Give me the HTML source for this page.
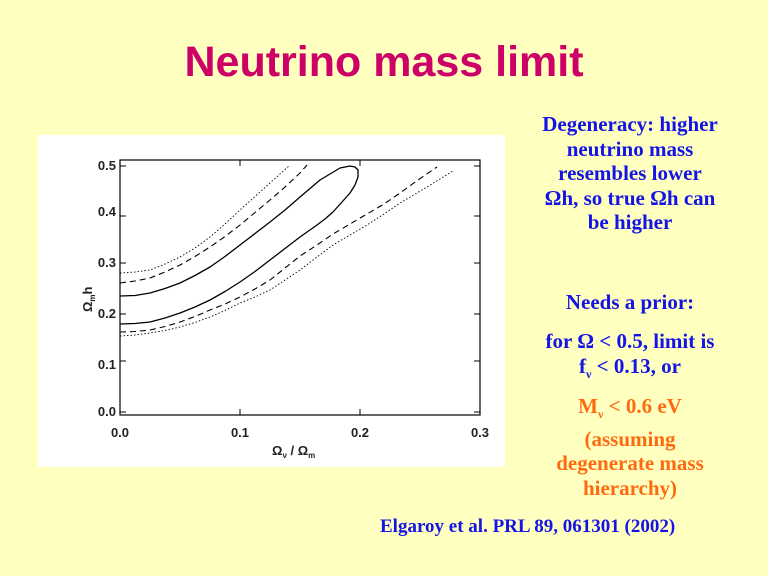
<!DOCTYPE html>
<html><head><meta charset="utf-8"><style>
body{margin:0;width:768px;height:576px;background:#FFFFC0;position:relative;overflow:hidden;font-family:"Liberation Serif",serif}
.t{position:absolute;white-space:nowrap}
.title{left:0;width:768px;text-align:center;top:38px;font:bold 43px "Liberation Sans",sans-serif;color:#CC0066}
.r{position:absolute;left:500px;width:260px;text-align:center;font-weight:bold;font-size:21px;line-height:24.5px;color:#1414E6}
.o{color:#FF6A10}
</style></head><body>
<div class="t title">Neutrino mass limit</div>
<svg style="position:absolute;left:0;top:0" width="768" height="576">
<rect x="38" y="135" width="467" height="332" fill="#fff"/>
<rect x="120" y="160" width="360" height="255" fill="none" stroke="#000" stroke-width="1.2"/>
<g stroke="#000" stroke-width="1">
<path d="M120 412h6M120 361h6M120 314h6M120 263h6M120 216h6M120 166h6M480 412h-6M480 361h-6M480 314h-6M480 263h-6M480 216h-6M480 166h-6M240 415v-6M360 415v-6M240 160v6M360 160v6"/>
</g>
<g font-family="Liberation Sans,sans-serif" font-size="13" font-weight="bold" fill="#222">
<text x="116" y="416" text-anchor="end">0.0</text>
<text x="116" y="369" text-anchor="end">0.1</text>
<text x="116" y="318" text-anchor="end">0.2</text>
<text x="116" y="267" text-anchor="end">0.3</text>
<text x="116" y="216" text-anchor="end">0.4</text>
<text x="116" y="170" text-anchor="end">0.5</text>
<text x="120" y="437" text-anchor="middle">0.0</text>
<text x="240" y="437" text-anchor="middle">0.1</text>
<text x="360" y="437" text-anchor="middle">0.2</text>
<text x="480" y="437" text-anchor="middle">0.3</text>
<text x="272" y="455">Ω<tspan font-size="8" dy="3">ν</tspan><tspan dy="-3"> / Ω</tspan><tspan font-size="8" dy="3">m</tspan></text>
<text transform="translate(92,312) rotate(-90)">Ω<tspan font-size="8" dy="3">m</tspan><tspan dy="-3">h</tspan></text>
</g>
<g fill="none" stroke="#000" stroke-linejoin="round">
<polyline stroke-width="1.3" points="120,296 135,295.5 150,293 165,288.5 180,283 195,275.5 210,267 225,256.5 240,245 255,233.5 270,222 285,210 300,197 320,180 340,168 350,166 355,167 358,170 358,177 355,185 350,193 342,202 333,212 325,219 317,225 300,237 285,248.5 270,260 255,271.5 240,282 225,291.5 210,300 195,307 180,313 165,318 150,322 135,323.5 120,324"/>
<polyline stroke-width="1.1" stroke-dasharray="6,4" points="120,283 135,281 150,278 165,272 180,265 195,256.5 210,247 225,236.5 240,225 255,212.5 270,200 285,187 300,173 307,165"/>
<polyline stroke-width="1.1" stroke-dasharray="6,4" points="120,332 135,331.5 150,330 165,326.5 180,322 195,316.5 210,310 225,304 240,297 255,289 270,280 285,268 300,256 317,245 333,234 350,224 367,214 384,204 400,193 418,180 437,167"/>
<polyline stroke-width="0.9" stroke-dasharray="1.5,2" points="120,273 135,272 150,270 165,264 180,257 195,248 210,237 225,224 240,210 255,196.5 270,183 280,174 290,165"/>
<polyline stroke-width="0.9" stroke-dasharray="1.5,2" points="120,336 135,335 150,333 165,330.5 180,327 195,322.5 210,317 225,310.5 240,303 255,297 270,290 285,280 300,270 317,257 333,245 350,235 367,225 384,214 400,203 427,187 453,171"/>
</g>
</svg>
<div class="r" style="top:112px">Degeneracy: higher<br>neutrino mass<br>resembles lower<br>Ωh, so true Ωh can<br>be higher</div>
<div class="r" style="top:290px">Needs a prior:</div>
<div class="r" style="top:329px">for Ω &lt; 0.5, limit is<br>f<sub style="font-size:12px">ν</sub> &lt; 0.13, or</div>
<div class="r o" style="top:394px">M<sub style="font-size:12px">ν</sub> &lt; 0.6 eV<br>(assuming<br>degenerate mass<br>hierarchy)</div>
<div class="t" style="left:380px;top:516px;font-weight:bold;font-size:19px;color:#1414E6">Elgaroy et al. PRL 89, 061301 (2002)</div>
</body></html>
